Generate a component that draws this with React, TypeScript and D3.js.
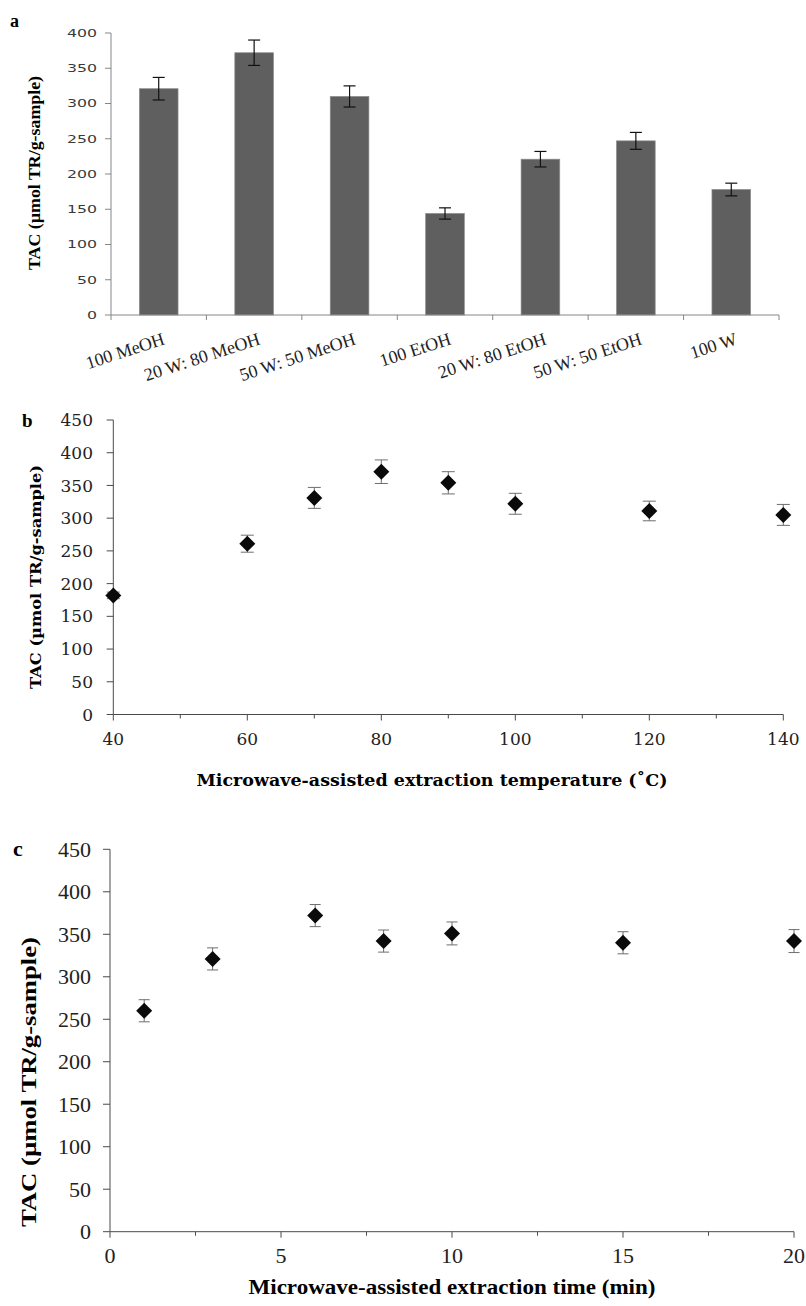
import React from "react";
import * as d3 from "d3";

// ---- Data ----
const catA = ["100 MeOH", "20 W: 80 MeOH", "50 W: 50 MeOH", "100 EtOH", "20 W: 80 EtOH", "50 W: 50 EtOH", "100 W"];
const tacA = [321, 372, 310, 144, 221, 247, 178];
const errA = [16, 18, 15, 8, 11, 12, 9];
const ticksAY = [0, 50, 100, 150, 200, 250, 300, 350, 400];

const tempB = [40, 60, 70, 80, 90, 100, 120, 140];
const tacB = [182, 261, 331, 371, 354, 322, 311, 305];
const errB = [5, 13, 16, 18, 17, 16, 15, 16];
const ticksBY = [0, 50, 100, 150, 200, 250, 300, 350, 400, 450];
const ticksBX = [40, 60, 80, 100, 120, 140];
const minorBX = [50, 70, 90, 110, 130];

const timeC = [1, 3, 6, 8, 10, 15, 20];
const tacC = [260, 321, 372, 342, 351, 340, 342];
const errC = [13, 13, 13, 13, 13.5, 13, 13.5];
const ticksCY = [0, 50, 100, 150, 200, 250, 300, 350, 400, 450];
const ticksCX = [0, 5, 10, 15, 20];
const minorCX = [2.5, 7.5, 12.5, 17.5];

const yLabel = "TAC (µmol TR/g-sample)";

export default function App() {
  // Panel a scales
  const xA = d3.scaleBand<string>().domain(catA).range([111, 779]).padding(0);
  const yA = d3.scaleLinear().domain([0, 400]).range([315, 33]);
  const barW = xA.step() * 0.405;

  // Panel b scales
  const xB = d3.scaleLinear().domain([40, 140]).range([113.3, 783.3]);
  const yB = d3.scaleLinear().domain([0, 450]).range([714.5, 420]);

  // Panel c scales
  const xC = d3.scaleLinear().domain([0, 20]).range([110, 794]);
  const yC = d3.scaleLinear().domain([0, 450]).range([1231.7, 849.3]);

  const diamond = d3.symbol().type(d3.symbolSquare).size(128)() as string;

  const serif = "'Liberation Serif', 'Times New Roman', serif";
  const dserif = "'DejaVu Serif', serif";
  const axisA = "#868686";
  const axisBC = "#4a4a4a";
  const errGray = "#6e6e6e";

  return (
    <svg width={806} height={1306} style={{ position: "absolute", left: 0, top: 0, background: "#fff" }}>
      <rect x={0} y={0} width={806} height={1306} fill="#fff" />

      {/* ================= Panel a ================= */}
      <text x={10} y={27} fontFamily={serif} fontWeight="bold" fontSize={18}>a</text>
      <text
        transform={`translate(40,173) rotate(-90)`}
        textAnchor="middle"
        fontFamily={serif}
        fontWeight="bold"
        fontSize={17}
        textLength={194}
        lengthAdjust="spacingAndGlyphs"
      >
        {yLabel}
      </text>
      {ticksAY.map((t) => (
        <g key={"ay" + t}>
          <line x1={105} x2={111} y1={yA(t)} y2={yA(t)} stroke={axisA} />
          <text
            transform={`translate(97,${yA(t)}) scale(1.5,1)`}
            textAnchor="end"
            dy="0.36em"
            fontFamily="'DejaVu Sans', Verdana, sans-serif"
            fontSize={10.5}
            fill="#3a3a3a"
          >
            {t}
          </text>
        </g>
      ))}
      {catA.map((c, i) => (
        <g key={"bar" + c}>
          <rect
            x={(xA(c) as number) + xA.step() / 2 - barW / 2}
            y={yA(tacA[i])}
            width={barW}
            height={yA(0) - yA(tacA[i])}
            fill="#5f5f5f"
            stroke="#8c8c8c"
            strokeWidth={0.7}
          />
          <line
            x1={(xA(c) as number) + xA.step() / 2}
            x2={(xA(c) as number) + xA.step() / 2}
            y1={yA(tacA[i] + errA[i])}
            y2={yA(tacA[i] - errA[i])}
            stroke="#111"
            strokeWidth={1.2}
          />
          {[1, -1].map((s) => (
            <line
              key={s}
              x1={(xA(c) as number) + xA.step() / 2 - 6}
              x2={(xA(c) as number) + xA.step() / 2 + 6}
              y1={yA(tacA[i] + s * errA[i])}
              y2={yA(tacA[i] + s * errA[i])}
              stroke="#111"
              strokeWidth={1.2}
            />
          ))}
          <text
            transform={`translate(${(xA(c) as number) + xA.step() / 2 + 7},${yA(0) + 29}) rotate(-18)`}
            textAnchor="end"
            fontFamily={serif}
            fontSize={18}
            fill="#222"
          >
            {c}
          </text>
        </g>
      ))}
      <line x1={111} x2={111} y1={yA(400)} y2={yA(0)} stroke={axisA} />
      <line x1={111} x2={779} y1={yA(0)} y2={yA(0)} stroke={axisA} />
      {[...catA.map((c) => xA(c) as number), 779].map((x, i) => (
        <line key={"ax" + i} x1={x} x2={x} y1={yA(0)} y2={yA(0) + 5} stroke={axisA} />
      ))}

      {/* ================= Panel b ================= */}
      <text x={22} y={427} fontFamily={serif} fontWeight="bold" fontSize={19}>b</text>
      <text
        transform={`translate(41,577) rotate(-90)`}
        textAnchor="middle"
        fontFamily={dserif}
        fontWeight="bold"
        fontSize={15}
        textLength={224}
        lengthAdjust="spacingAndGlyphs"
      >
        {yLabel}
      </text>
      {ticksBY.map((t) => (
        <g key={"by" + t}>
          <line x1={106.7} x2={113.3} y1={yB(t)} y2={yB(t)} stroke={axisBC} />
          <text x={93} y={yB(t)} dy="0.36em" textAnchor="end" fontFamily={dserif} fontSize={17} fill="#222">
            {t}
          </text>
        </g>
      ))}
      {ticksBX.map((t) => (
        <g key={"bx" + t}>
          <line x1={xB(t)} x2={xB(t)} y1={yB(0)} y2={yB(0) + 6} stroke={axisBC} />
          <text x={xB(t)} y={745} textAnchor="middle" fontFamily={dserif} fontSize={17} fill="#222">
            {t}
          </text>
        </g>
      ))}
      {minorBX.map((t) => (
        <line key={"bm" + t} x1={xB(t)} x2={xB(t)} y1={yB(0)} y2={yB(0) + 4} stroke={axisBC} />
      ))}
      <line x1={113.3} x2={113.3} y1={yB(450)} y2={yB(0)} stroke={axisBC} />
      <line x1={113.3} x2={783.3} y1={yB(0)} y2={yB(0)} stroke={axisBC} />
      <text
        x={432}
        y={786}
        textAnchor="middle"
        fontFamily={dserif}
        fontWeight="bold"
        fontSize={16.5}
        textLength={471}
        lengthAdjust="spacingAndGlyphs"
      >
        Microwave-assisted extraction temperature (˚C)
      </text>
      {tempB.map((t, i) => (
        <g key={"pb" + t}>
          <line x1={xB(t)} x2={xB(t)} y1={yB(tacB[i] + errB[i])} y2={yB(tacB[i] - errB[i])} stroke={errGray} />
          {[1, -1].map((s) => (
            <line
              key={s}
              x1={xB(t) - 6.5}
              x2={xB(t) + 6.5}
              y1={yB(tacB[i] + s * errB[i])}
              y2={yB(tacB[i] + s * errB[i])}
              stroke={errGray}
            />
          ))}
          <path d={diamond} transform={`translate(${xB(t)},${yB(tacB[i])}) rotate(45)`} fill="#0a0a0a" />
        </g>
      ))}

      {/* ================= Panel c ================= */}
      <text x={13} y={856} fontFamily={serif} fontWeight="bold" fontSize={22}>c</text>
      <text
        transform={`translate(36,1082) rotate(-90)`}
        textAnchor="middle"
        fontFamily={serif}
        fontWeight="bold"
        fontSize={22}
        textLength={290}
        lengthAdjust="spacingAndGlyphs"
      >
        {yLabel}
      </text>
      {ticksCY.map((t) => (
        <g key={"cy" + t}>
          <line x1={103} x2={110} y1={yC(t)} y2={yC(t)} stroke={axisBC} />
          <text x={91} y={yC(t)} dy="0.34em" textAnchor="end" fontFamily={serif} fontSize={22} fill="#222">
            {t}
          </text>
        </g>
      ))}
      {ticksCX.map((t) => (
        <g key={"cx" + t}>
          <line x1={xC(t)} x2={xC(t)} y1={yC(0)} y2={yC(0) + 6} stroke={axisBC} />
          <text x={xC(t)} y={1263} textAnchor="middle" fontFamily={serif} fontSize={22} fill="#222">
            {t}
          </text>
        </g>
      ))}
      {minorCX.map((t) => (
        <line key={"cm" + t} x1={xC(t)} x2={xC(t)} y1={yC(0)} y2={yC(0) + 4} stroke={axisBC} />
      ))}
      <line x1={110} x2={110} y1={yC(450)} y2={yC(0)} stroke={axisBC} />
      <line x1={110} x2={794} y1={yC(0)} y2={yC(0)} stroke={axisBC} />
      <text
        x={452}
        y={1294}
        textAnchor="middle"
        fontFamily={serif}
        fontWeight="bold"
        fontSize={20}
        textLength={407}
        lengthAdjust="spacingAndGlyphs"
      >
        Microwave-assisted extraction time (min)
      </text>
      {timeC.map((t, i) => (
        <g key={"pc" + t}>
          <line x1={xC(t)} x2={xC(t)} y1={yC(tacC[i] + errC[i])} y2={yC(tacC[i] - errC[i])} stroke={errGray} />
          {[1, -1].map((s) => (
            <line
              key={s}
              x1={xC(t) - 5.5}
              x2={xC(t) + 5.5}
              y1={yC(tacC[i] + s * errC[i])}
              y2={yC(tacC[i] + s * errC[i])}
              stroke={errGray}
            />
          ))}
          <path d={diamond} transform={`translate(${xC(t)},${yC(tacC[i])}) rotate(45)`} fill="#0a0a0a" />
        </g>
      ))}
    </svg>
  );
}
